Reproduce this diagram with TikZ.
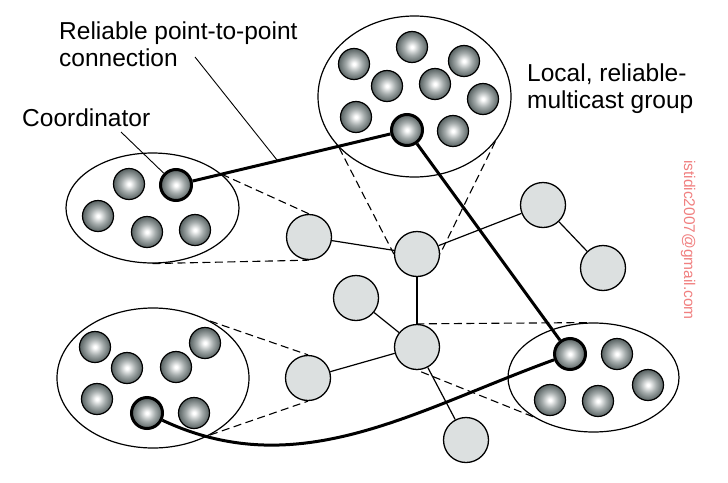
\documentclass[tikz,border=0pt]{standalone}
\usepackage{fontspec}
\setmainfont{Liberation Sans}
\usepackage{tikz}
\usetikzlibrary{shapes.geometric}
\definecolor{routercol}{RGB}{220,224,224}
\definecolor{ballmid}{RGB}{165,172,172}
\definecolor{ballrim}{RGB}{88,98,98}
\definecolor{mailcol}{RGB}{240,128,128}
\pgfdeclareradialshading{hostball}{\pgfpoint{0bp}{0bp}}{%
  color(0bp)=(white); color(2bp)=(white); color(13bp)=(ballmid);
  color(25bp)=(ballrim); color(50bp)=(ballrim)}
\tikzstyle{host}=[circle,draw,line width=1.2pt,minimum size=31pt,inner sep=0pt,shading=hostball]
\tikzstyle{headhost}=[host,line width=3pt]
\tikzstyle{router}=[circle,draw,line width=1.3pt,fill=routercol,minimum size=45pt,inner sep=0pt]
\tikzstyle{group}=[ellipse,draw,line width=1.2pt,inner sep=0pt]
\tikzstyle{link}=[line width=1.2pt]
\tikzstyle{cone}=[line width=1.1pt,dash pattern=on 8pt off 4.5pt]
\tikzstyle{p2p}=[line width=3pt]
\tikzstyle{pointer}=[line width=0.9pt]
\tikzset{
  lbltext/.style={font=\fontsize{24.5}{27}\selectfont,align=left,
                  inner sep=0pt,anchor=north west}}

\begin{document}
\begin{tikzpicture}[x=1pt,y=-1pt]
  \useasboundingbox (0,0) rectangle (728,482);

  % GROUPS
  \node[group,minimum width=173pt,minimum height=110pt] (G1) at (152.5,208) {};
  \node[group,minimum width=193pt,minimum height=161pt] (G2) at (414.5,96.5) {};
  \node[group,minimum width=192pt,minimum height=140pt] (G3) at (153,378) {};
  \node[group,minimum width=171pt,minimum height=109pt] (G4) at (593.5,377.5) {};

  % ROUTERS
  \foreach \p [count=\i] in {(309,237),(417,254),(543,205),(603,268),
                             (356,298),(417,347),(308,378),(466,440)}
    \node[router] (N\i) at \p {};

  % HOSTS
  \foreach \p [count=\i] in {(129,184),(98,216),(147,232),(195,230)}
    \node[host] (a\i) at \p {};
  \node[headhost] (a0) at (176,185) {};
  \foreach \p [count=\i] in {(412,47),(464,61),(354,64),(387,86),
                             (435,84),(483,99),(356,117),(453,131)}
    \node[host] (b\i) at \p {};
  \node[headhost] (b0) at (407,130) {};
  \foreach \p [count=\i] in {(95,347),(127,368),(176,367),(205,343),
                             (97,399),(194,413)}
    \node[host] (c\i) at \p {};
  \node[headhost] (c0) at (147,413) {};
  \foreach \p [count=\i] in {(617,354),(648,385),(550,400),(598,401)}
    \node[host] (d\i) at \p {};
  \node[headhost] (d0) at (570,354) {};

  % CONES
  \draw[cone] (G1.26) -- (N1.north) (G1.south) -- (N1.south);
  \draw[cone] (G2.214) -- (N2.west) (G2.331) -- (N2.east);
  \draw[cone] (G3.45) -- (N7.north) (G3.315) -- (N7.south);
  \draw[cone] (G4.97) -- (N6.north) (G4.213) -- (N6.south);

  % LINKS
  \foreach \a/\b in {1/2,2/3,3/4,2/6,5/6,7/6,6/8}
    \draw[link] (N\a) -- (N\b);

  % RELIABLE CONNECTIONS
  \draw[p2p] (a0) -- coordinate[pos=0.43] (m1) (b0);
  \draw[p2p] (b0) -- (d0);
  \draw[p2p] (c0) .. controls +(151,71) and +(-157,57) .. (d0);

  % LABELS
  \node[lbltext] (lblp2p) at (59,22) {Reliable point-to-point\\connection};
  \node[lbltext] (lblcoord) at (22,109) {Coordinator};
  \node[lbltext] (lblgroup) at (527,64) {Local, reliable-\\multicast group};
  \coordinate (c2) at (195,57);
  \coordinate (c1) at (121,132);
  \draw[pointer] (c2) -- (m1);
  \draw[pointer] (c1) -- (a0);

  \node[mailcol,rotate=-90,font=\fontsize{15.5}{18}\selectfont] (mail) at (688,240)
    {istidic2007@gmail.com};
\end{tikzpicture}
\end{document}
